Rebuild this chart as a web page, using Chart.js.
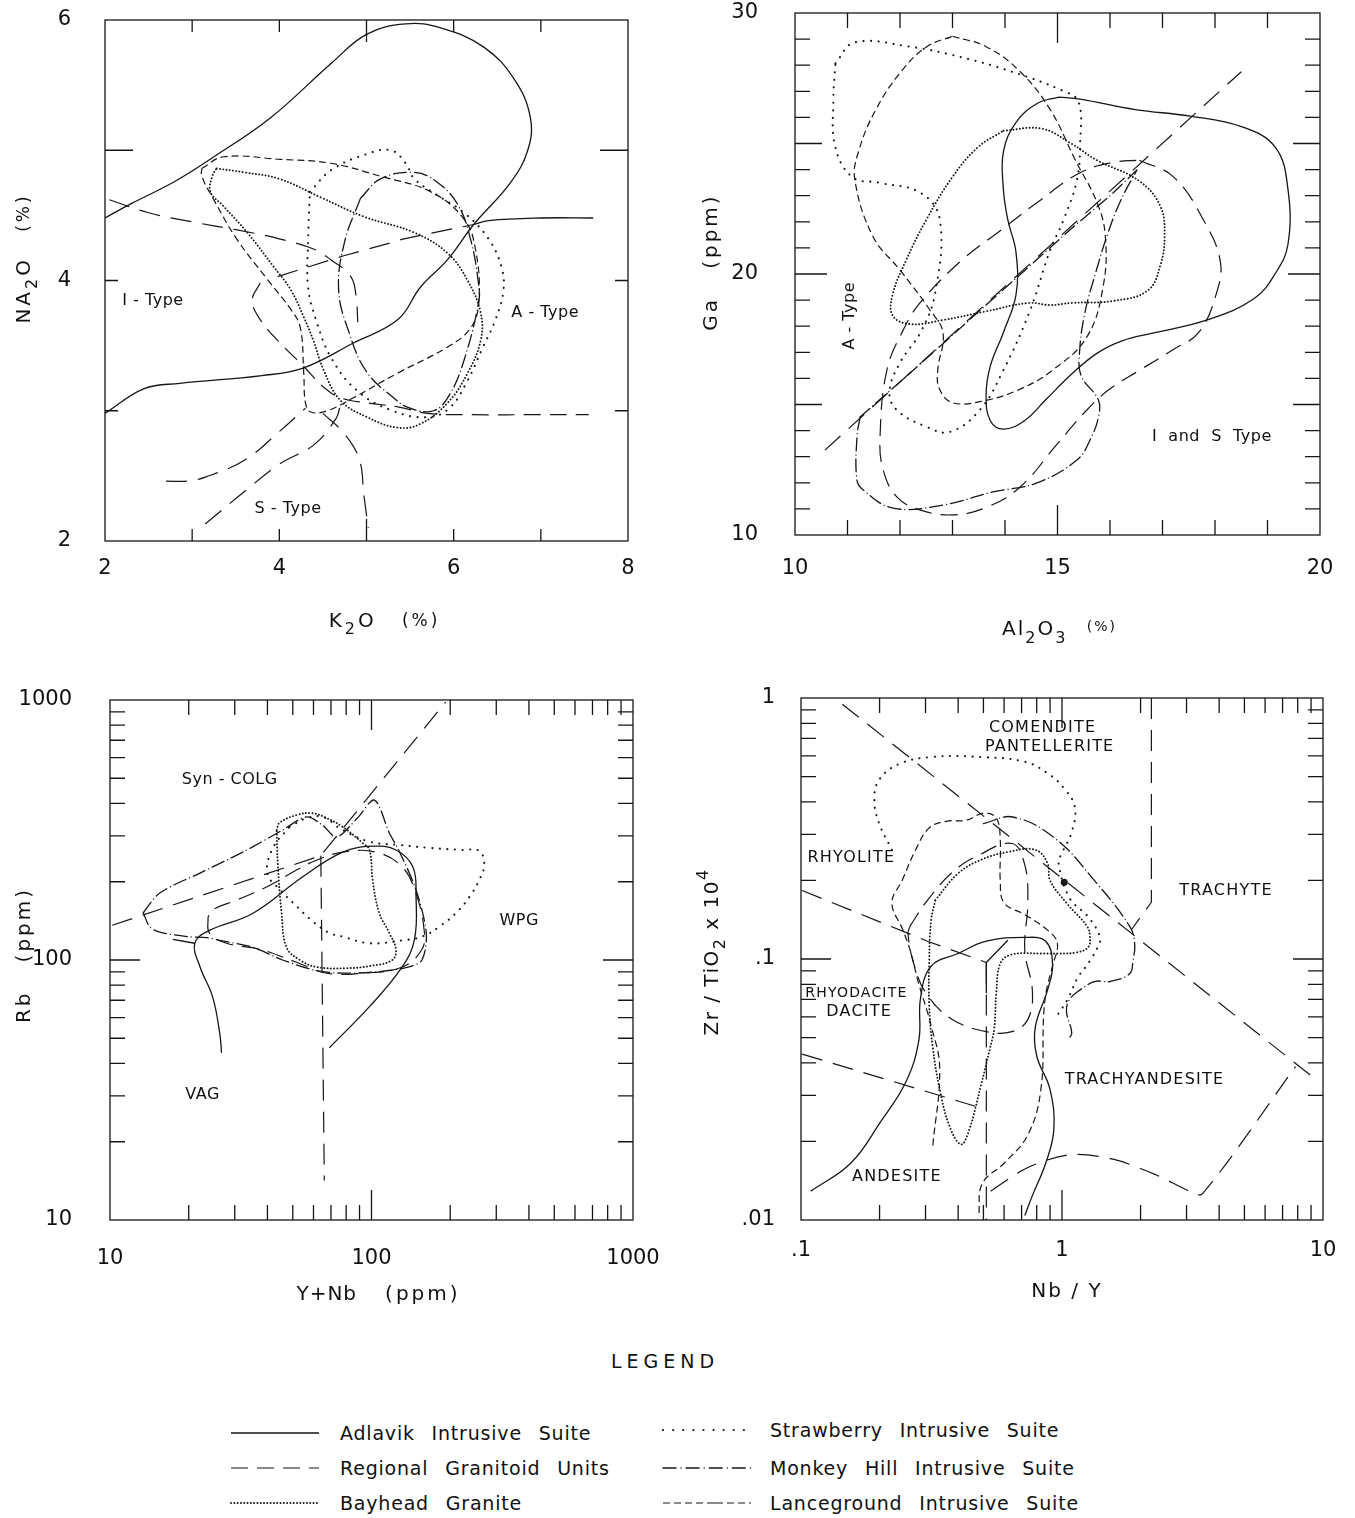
<!DOCTYPE html>
<html>
<head>
<meta charset="utf-8">
<script src="https://cdn.jsdelivr.net/npm/chart.js@4.4.1/dist/chart.umd.min.js"></script>
<style>
  body { margin: 0; background: #fff; width: 1355px; height: 1518px; position: relative; overflow: hidden; color: #000; font-family: 'DejaVu Sans', sans-serif; }
  canvas { position: absolute; }
  #legendTitle { position: absolute; left: 565px; width: 200px; top: 1350px; text-align: center; font-size: 19px; letter-spacing: 5px; color: #111; }
  .row { position: absolute; font-size: 19px; letter-spacing: 0.8px; word-spacing: 10px; height: 24px; line-height: 24px; white-space: nowrap; color: #111; }
  .row svg { position: absolute; left: 0; top: 0; }
  .row span { position: absolute; top: 0; }
</style>
</head>
<body>
<canvas id="naChart"></canvas>
<canvas id="gaChart"></canvas>
<canvas id="rbChart"></canvas>
<canvas id="zrChart"></canvas>

<div id="legendTitle">LEGEND</div>
<div id="legendRows"></div>

<script>
// ---------- panel 1 : K2O vs Na2O ----------
const naXLabels = [2, 4, 6, 8];
const naYLabels = [2, 4, 6];
const naXMarks = [[3, 12], [4, 12], [5, 22], [6, 12], [7, 12]];
const naYMarks = [[3, 13], [4, 13], [5, 28]];

const naAdlavik = [[2.0,4.48],[2.3,4.59],[2.8,4.76],[3.25,4.95],[3.9,5.25],[4.6,5.67],[5.0,5.89],[5.45,5.97],[5.85,5.94],[6.35,5.79],[6.7,5.54],[6.88,5.25],[6.85,5.0],[6.65,4.75],[6.23,4.43],[5.93,4.16],[5.62,3.95],[5.36,3.7],[4.85,3.52],[4.28,3.33],[3.8,3.27],[2.86,3.21],[2.45,3.17],[2.0,2.98]];
const naAdlavikTail = [[6.23,4.43],[6.4,4.46],[7.0,4.48],[7.6,4.48]];
const naRegional = [[3.78,3.98],[3.69,3.85],[3.78,3.7],[4.01,3.52],[4.28,3.34],[4.51,3.18],[4.7,3.1],[5.01,3.06],[5.36,3.03],[5.7,2.98],[6.2,2.97],[7.0,2.97],[7.55,2.97]];
const naBayhead = [[3.28,4.86],[3.6,4.83],[4.0,4.78],[4.47,4.64],[4.97,4.49],[5.54,4.37],[5.93,4.21],[6.16,4.0],[6.31,3.75],[6.31,3.54],[6.16,3.29],[5.93,3.06],[5.62,2.9],[5.36,2.87],[5.01,2.95],[4.7,3.08],[4.51,3.31],[4.39,3.54],[4.28,3.72],[4.13,3.93],[3.93,4.11],[3.63,4.37],[3.36,4.57],[3.21,4.68],[3.23,4.8],[3.28,4.86]];
const naStrawberry = [[4.35,4.68],[4.6,4.85],[5.0,4.97],[5.28,5.0],[5.45,4.9],[5.55,4.78],[5.8,4.66],[6.12,4.52],[6.4,4.32],[6.55,4.1],[6.57,3.92],[6.48,3.7],[6.33,3.48],[6.15,3.22],[5.95,3.02],[5.7,2.95],[5.3,3.0],[4.9,3.15],[4.6,3.4],[4.42,3.7],[4.33,3.95],[4.33,4.3],[4.35,4.68]];
const naMonkeyHill = [[4.93,4.63],[5.16,4.78],[5.54,4.83],[5.8,4.76],[6.05,4.58],[6.2,4.3],[6.28,4.0],[6.29,3.85],[6.12,3.39],[5.95,3.12],[5.77,3.0],[5.5,3.02],[5.31,3.1],[5.0,3.3],[4.8,3.6],[4.68,3.93],[4.75,4.3],[4.93,4.63]];
const naLanceground = [[3.11,4.86],[3.36,4.95],[4.01,4.93],[4.59,4.9],[5.16,4.8],[5.74,4.68],[6.12,4.47],[6.25,4.24],[6.29,3.85],[6.2,3.64],[5.93,3.49],[5.36,3.29],[4.85,3.1],[4.55,3.0],[4.36,2.99],[4.3,3.06],[4.28,3.29],[4.24,3.64],[4.13,3.78],[3.86,4.01],[3.51,4.32],[3.24,4.63],[3.11,4.8],[3.11,4.86]];
const naFieldIA = [[2.05,4.62],[2.5,4.52],[3.0,4.45],[3.5,4.39],[4.0,4.32],[4.4,4.24],[4.59,4.16],[4.82,4.03],[4.88,3.88],[4.9,3.68]];
const naFieldMid = [[3.98,4.03],[4.74,4.19],[5.28,4.29],[5.43,4.32],[6.23,4.43]];
const naFieldS1 = [[3.15,2.13],[3.6,2.38],[4.0,2.59],[4.4,2.74],[4.65,2.94],[4.7,3.04]];
const naFieldS2 = [[2.7,2.46],[2.95,2.46],[3.15,2.49],[3.6,2.62],[4.0,2.84],[4.3,3.02]];
const naFieldS3 = [[4.5,2.98],[4.75,2.82],[4.92,2.62],[4.97,2.35],[5.02,2.1]];
const naTexts = [
  { x: 2.55, y: 3.84, text: 'I - Type' },
  { x: 7.05, y: 3.75, text: 'A - Type' },
  { x: 4.1, y: 2.25, text: 'S - Type' }
];

// ---------- panel 2 : Al2O3 vs Ga ----------
const gaXLabels = [10, 15, 20];
const gaYLabels = [10, 20, 30];
const gaXMarks = [[11,15],[12,15],[13,15],[14,15],[15,30],[16,15],[17,15],[18,15],[19,15]];
const gaYMarks = [[11,15],[12,15],[13,15],[14,15],[15,27],[16,15],[17,15],[18,15],[19,15],[20,32],[21,15],[22,15],[23,15],[24,15],[25,27],[26,15],[27,15],[28,15],[29,15]];

const gaAdlavik = [[15.02,26.78],[15.43,26.7],[16.48,26.3],[17.53,26.05],[18.5,25.65],[19.15,24.85],[19.39,23.24],[19.39,21.14],[19.15,20.02],[18.74,19.05],[17.85,18.24],[16.88,17.76],[16.23,17.44],[15.75,16.96],[15.26,16.15],[14.78,15.19],[14.37,14.38],[13.97,14.06],[13.72,14.38],[13.64,15.35],[13.72,16.47],[13.97,17.76],[14.21,19.21],[14.21,20.82],[14.05,22.11],[13.97,23.24],[13.97,24.69],[14.21,25.81],[14.62,26.54],[15.02,26.78]];
const gaRegional = [[16.56,24.36],[17.21,23.72],[17.77,22.11],[18.1,20.5],[18.02,19.21],[17.69,17.76],[17.2,17.1],[16.57,16.32],[16.0,15.6],[15.56,14.79],[15.0,13.5],[14.29,11.84],[13.66,11.07],[13.01,10.77],[12.38,10.96],[11.94,11.46],[11.68,12.49],[11.62,13.75],[11.75,16.32],[12.06,17.85],[12.38,18.89],[13.16,20.5],[13.89,21.63],[14.62,22.75],[15.43,23.88],[16.07,24.28],[16.56,24.36]];
const gaBayhead = [[13.97,25.49],[14.7,25.57],[15.26,25.0],[15.75,24.36],[16.56,23.56],[16.96,22.59],[17.04,21.47],[16.96,20.34],[16.72,19.37],[16.07,18.97],[15.26,18.89],[14.86,18.81],[14.45,18.89],[13.64,18.57],[12.83,18.24],[12.19,18.08],[11.86,18.41],[11.86,19.21],[12.11,20.5],[12.51,22.11],[13.0,23.72],[13.48,24.85],[13.97,25.49]];
const gaStrawberry = [[10.77,28.07],[11.13,28.87],[12.19,28.71],[13.16,28.31],[14.13,27.75],[15.1,27.02],[15.4,26.6],[15.43,25.0],[15.37,23.6],[15.1,22.0],[14.86,20.92],[14.48,18.62],[13.97,16.32],[13.52,14.79],[12.95,13.95],[12.51,14.14],[11.94,14.79],[11.8,15.5],[12.0,16.6],[12.4,17.8],[12.67,19.27],[12.76,22.07],[12.4,23.1],[11.6,23.5],[11.1,23.7],[10.77,24.85],[10.73,26.62],[10.77,28.07]];
const gaMonkeyHill = [[11.24,14.52],[11.18,13.75],[11.18,12.1],[11.3,11.72],[11.87,11.03],[12.82,11.15],[13.77,11.65],[14.6,11.99],[15.37,12.87],[15.62,13.64],[15.78,14.52],[15.78,15.17],[15.45,16.1],[15.42,17.0],[15.52,18.5],[15.72,20.0],[15.95,21.5],[16.2,22.8],[16.51,23.98]];
const gaMonkeyHillLine = [[11.24,14.52],[12.3,16.4],[13.3,18.2],[14.3,20.0],[15.3,21.8],[16.0,23.0],[16.51,23.98]];
const gaLanceground = [[13.0,29.11],[13.64,28.71],[14.29,27.75],[14.86,26.3],[15.34,24.36],[15.75,22.75],[15.91,21.47],[15.87,19.53],[15.56,17.59],[14.91,16.32],[14.3,15.6],[13.66,15.17],[13.01,15.06],[12.75,15.6],[12.72,16.32],[12.82,17.74],[12.57,18.62],[12.0,20.15],[11.49,21.42],[11.14,23.6],[11.21,24.69],[11.54,26.3],[12.02,27.75],[12.51,28.71],[13.0,29.11]];
const gaField = [[10.57,13.25],[18.5,27.75]];
const gaTexts = [
  { x: 11.05, y: 18.4, text: 'A - Type', rot: -90 },
  { x: 17.94, y: 13.75, text: 'I  and  S  Type' }
];

// ---------- panel 3 : Y+Nb vs Rb ----------
const rbXLabels = [10, 100, 1000];
const rbYLabels = [10, 100, 1000];
const logMinor = [2, 3, 4, 5, 6, 7, 8, 9];

const rbAdlavik = [[26.7,44],[26.3,52],[24.7,72],[22.1,94],[21.1,116],[24,130],[35.1,151],[54.6,209],[77.6,260],[101,274],[124,265],[144,228],[148,175],[146,120],[131,94],[98,66],[69,46]];
const rbAdlavikTick = [[17.4,120],[21.1,116]];
const rbRegional = [[23.7,146],[24,127],[27.9,116],[37.4,110],[51.7,98],[67.3,89],[92.5,89],[131,94],[156,110],[159,130],[148,180],[131,228],[104,260],[77.6,260],[61.6,242],[51.7,222],[39.7,191],[30.5,170],[24.7,156],[23.7,146]];
const rbBayhead = [[43.4,316],[44.5,337],[51.7,361],[59.5,367],[68,350],[77.6,325],[92.5,282],[98.3,265],[101,203],[107,152],[117,127],[124,110],[120,100],[100,95],[80,93],[61.6,94],[53.2,100],[47.3,112],[45.3,152],[43.8,236],[43.4,316]];
const rbStrawberry = [[48.6,325],[56,350],[65,355],[77.6,316],[98.3,285],[128,277],[166,270],[223,265],[258,263],[270,232],[258,203],[237,175],[211,152],[181,134],[156,123],[131,119],[98,116],[77.6,123],[69,127],[60,140],[52,160],[45,185],[40,215],[42,270],[48.6,325]];
const rbMonkeyHill = [[13.4,152],[15.5,181],[22.1,216],[32.2,260],[45.7,316],[56.5,355],[65,330],[73.5,297],[88,350],[102.6,412],[117,308],[127,265],[148,186],[162,127],[156,100],[139,94],[104,90],[77.6,89],[61.6,91],[45.7,100],[35.1,112],[26.3,119],[23.4,122],[19.7,123],[15.5,128],[14.2,134],[13.4,152]];
const rbFieldDiag = [[10.2,136],[64,252],[192,982]];
const rbFieldVert = [[64,252],[66,14.2]];
const rbTexts = [
  { x: 28.7, y: 492, text: 'Syn - COLG' },
  { x: 367, y: 142, text: 'WPG' },
  { x: 22.6, y: 30.3, text: 'VAG' }
];

// ---------- panel 4 : Nb/Y vs Zr/TiO2 ----------
const zrXLabels = [0.1, 1, 10];
const zrXText = ['.1', '1', '10'];
const zrYLabels = [0.01, 0.1, 1];
const zrYText = ['.01', '.1', '1'];

const zrAdlavik = [[0.109,0.0129],[0.155,0.0165],[0.202,0.0238],[0.253,0.034],[0.283,0.049],[0.287,0.0706],[0.315,0.0938],[0.4,0.105],[0.513,0.117],[0.718,0.121],[0.866,0.117],[0.92,0.095],[0.88,0.076],[0.79,0.0548],[0.80,0.0425],[0.9,0.0316],[0.93,0.0221],[0.866,0.0165],[0.77,0.0124],[0.72,0.0104]];
const zrAdlavikY = [[0.513,0.074],[0.513,0.097],[0.62,0.118]];
const zrRegional = [[0.262,0.134],[0.257,0.125],[0.272,0.094],[0.304,0.073],[0.38,0.0587],[0.513,0.0527],[0.643,0.0527],[0.74,0.0587],[0.77,0.0755],[0.72,0.108],[0.74,0.167],[0.718,0.232],[0.643,0.277],[0.476,0.249],[0.38,0.215],[0.304,0.167],[0.262,0.134]];
const zrBayhead = [[0.327,0.168],[0.4,0.213],[0.49,0.24],[0.62,0.257],[0.79,0.262],[0.88,0.233],[0.9,0.2],[1.04,0.164],[1.25,0.133],[1.28,0.121],[1.26,0.111],[1.14,0.106],[0.98,0.105],[0.83,0.105],[0.64,0.104],[0.58,0.096],[0.56,0.074],[0.55,0.054],[0.53,0.0456],[0.49,0.033],[0.44,0.022],[0.41,0.0195],[0.37,0.023],[0.34,0.0317],[0.32,0.0456],[0.31,0.066],[0.31,0.1],[0.315,0.14],[0.327,0.168]];
const zrStrawberry = [[0.223,0.262],[0.199,0.332],[0.191,0.407],[0.199,0.485],[0.237,0.558],[0.317,0.594],[0.49,0.594],[0.72,0.57],[0.88,0.515],[1.02,0.45],[1.12,0.382],[1.09,0.307],[1.0,0.255],[0.97,0.233],[1.07,0.171],[1.26,0.145],[1.4,0.121],[1.37,0.111],[1.3,0.101],[1.23,0.093],[1.15,0.085],[1.05,0.07],[0.95,0.06]];
const zrMonkeyHill = [[0.5,0.33],[0.649,0.35],[0.94,0.29],[1.33,0.2],[1.82,0.133],[1.9,0.113],[1.87,0.099],[1.82,0.088],[1.53,0.082],[1.34,0.082],[1.17,0.076],[1.07,0.07],[1.04,0.063],[1.09,0.052],[1.05,0.049]];
const zrLanceground = [[0.32,0.0193],[0.34,0.038],[0.316,0.055],[0.282,0.081],[0.262,0.108],[0.245,0.13],[0.223,0.164],[0.244,0.2],[0.275,0.262],[0.31,0.318],[0.36,0.337],[0.43,0.34],[0.5,0.362],[0.56,0.347],[0.58,0.286],[0.58,0.2],[0.6,0.164],[0.72,0.148],[0.88,0.129],[0.96,0.115],[0.92,0.094],[0.87,0.075],[0.85,0.06],[0.83,0.0316],[0.74,0.0212],[0.6,0.0165],[0.495,0.0138],[0.48,0.0105]];
const zrFieldDiag = [[0.144,0.947],[9.1,0.0354]];
const zrFieldTrachyte = [[2.2,1.0],[2.2,0.165],[1.85,0.13]];
const zrFieldRhyolite = [[0.101,0.183],[0.305,0.117],[0.513,0.097]];
const zrFieldAndesite = [[0.101,0.0432],[0.513,0.0265]];
const zrFieldVert = [[0.513,0.097],[0.513,0.01]];
const zrFieldBasal = [[0.533,0.0129],[0.74,0.0159],[1.08,0.0178],[1.57,0.0171],[2.29,0.0149],[3.08,0.0129],[3.45,0.0126],[7.85,0.0387]];
const zrSample = [[1.02,0.197]];
const zrTexts = [
  { x: 0.843, y: 0.767, text: 'COMENDITE' },
  { x: 0.897, y: 0.649, text: 'PANTELLERITE' },
  { x: 0.156, y: 0.244, text: 'RHYOLITE' },
  { x: 4.25, y: 0.182, text: 'TRACHYTE' },
  { x: 0.163, y: 0.074, text: 'RHYODACITE', size: 14 },
  { x: 0.167, y: 0.0626, text: 'DACITE' },
  { x: 2.07, y: 0.0344, text: 'TRACHYANDESITE' },
  { x: 0.233, y: 0.0146, text: 'ANDESITE' }
];

// ---------- legend ----------
const legendNames = ['Adlavik  Intrusive  Suite', 'Regional  Granitoid  Units', 'Bayhead  Granite',
                     'Strawberry  Intrusive  Suite', 'Monkey  Hill  Intrusive  Suite', 'Lanceground  Intrusive  Suite'];
const legendKeys = ['adlavik', 'regional', 'bayhead', 'strawberry', 'monkey', 'lance'];

// ---------- styles ----------
const INK = '#161616';
const FONT = "'DejaVu Sans', sans-serif";
const WEIGHT = '400';
const STYLE = {
  adlavik:    { dash: [], width: 1.3, cap: 'butt', svg: '' },
  regional:   { dash: [17, 9], width: 1.2, cap: 'butt', svg: '17 9' },
  bayhead:    { dash: [0.1, 3.2], width: 1.9, cap: 'round', svg: '0.1 3.2' },
  strawberry: { dash: [0.1, 7.5], width: 2.1, cap: 'round', svg: '0.1 10' },
  monkey:     { dash: [13, 4, 0.1, 4], width: 1.3, cap: 'round', svg: '13 5 0.1 5' },
  lance:      { dash: [7, 4], width: 1.2, cap: 'butt', svg: '7 4 7 4 7 4 7 4 16 4' },
  field:      { dash: [21, 11], width: 1.2, cap: 'butt', svg: '21 11' }
};

// room kept round the plot so tick labels never push the frame
const PAD_TOP = 60, PAD_RIGHT = 60, Y_W = 105, X_H = 120;

function pts(arr) {
  return arr.map(p => ({ x: p[0], y: p[1] }));
}

function line(arr, key, tension) {
  const s = STYLE[key];
  return {
    data: pts(arr),
    showLine: true,
    borderColor: INK,
    borderWidth: s.width,
    borderDash: s.dash,
    borderCapStyle: s.cap,
    borderJoinStyle: 'round',
    pointRadius: 0,
    tension: tension === undefined ? 0.4 : tension,
    fill: false
  };
}

// axis titles with real sub/superscripts
function drawRich(ctx, title, cx, cy, rot) {
  const size = title.size || 20;
  const fontOf = s => WEIGHT + ' ' + Math.round(size * (s.scale || 1)) + 'px ' + FONT;
  const spacing = s => (s.ls !== undefined ? s.ls : title.ls) + 'px';
  ctx.save();
  ctx.translate(cx, cy);
  ctx.rotate(rot);
  ctx.textAlign = 'left';
  ctx.textBaseline = 'middle';
  let total = 0;
  title.segs.forEach(s => { ctx.font = fontOf(s); ctx.letterSpacing = spacing(s); total += ctx.measureText(s.t).width; });
  let x = -total / 2;
  title.segs.forEach(s => {
    ctx.font = fontOf(s);
    ctx.letterSpacing = spacing(s);
    ctx.fillText(s.t, x, s.dy || 0);
    x += ctx.measureText(s.t).width;
  });
  ctx.restore();
}

// frame, inward tick marks, field names and axis titles
const framePlugin = {
  id: 'frame',
  afterDatasetsDraw(chart, args, opts) {
    const { ctx, chartArea: a } = chart;
    const xs = chart.scales.x, ys = chart.scales.y;
    ctx.save();
    ctx.strokeStyle = INK;
    ctx.lineWidth = 1.3;
    ctx.strokeRect(a.left, a.top, a.right - a.left, a.bottom - a.top);
    ctx.beginPath();
    opts.xMarks.forEach(m => {
      const px = xs.getPixelForValue(m[0]);
      ctx.moveTo(px, a.bottom); ctx.lineTo(px, a.bottom - m[1]);
      ctx.moveTo(px, a.top); ctx.lineTo(px, a.top + m[1]);
    });
    opts.yMarks.forEach(m => {
      const py = ys.getPixelForValue(m[0]);
      ctx.moveTo(a.left, py); ctx.lineTo(a.left + m[1], py);
      ctx.moveTo(a.right, py); ctx.lineTo(a.right - m[1], py);
    });
    ctx.stroke();
    ctx.fillStyle = '#111';
    ctx.textAlign = 'center';
    ctx.textBaseline = 'middle';
    opts.texts.forEach(t => {
      ctx.save();
      ctx.font = WEIGHT + ' ' + (t.size || opts.textSize) + 'px ' + FONT;
      ctx.letterSpacing = (opts.textLs || 0) + 'px';
      ctx.translate(xs.getPixelForValue(t.x), ys.getPixelForValue(t.y));
      if (t.rot) ctx.rotate(t.rot * Math.PI / 180);
      ctx.fillText(t.text, 0, 0);
      ctx.restore();
    });
    const xt = opts.xTitle, yt = opts.yTitle;
    drawRich(ctx, xt, (a.left + a.right) / 2 + xt.dx, a.bottom + xt.dy, 0);
    drawRich(ctx, yt, a.left - yt.dx, (a.top + a.bottom) / 2 + yt.dy, -Math.PI / 2);
    ctx.restore();
  }
};

function axis(type, min, max, vals, names, tickPad, isY) {
  return {
    type: type,
    min: min,
    max: max,
    grid: { display: false, drawTicks: false },
    border: { display: false },
    ticks: {
      color: '#111',
      font: { family: FONT, size: 21, weight: WEIGHT },
      padding: tickPad,
      autoSkip: false,
      maxRotation: 0,
      callback: (v, i) => names[i]
    },
    afterBuildTicks: s => { s.ticks = vals.map(v => ({ value: v })); },
    afterFit: s => { if (isY) s.width = Y_W; else s.height = X_H; },
    title: { display: false }
  };
}

function logMarks(decades, mid) {
  const out = [];
  decades.forEach(d => {
    logMinor.forEach(m => out.push([m * d, 15]));
  });
  out.push([mid, 30]);
  return out;
}

function makePanel(id, box, datasets, xAxis, yAxis, frameOpts) {
  const cv = document.getElementById(id);
  const w = box[2] - box[0] + Y_W + PAD_RIGHT;
  const h = box[3] - box[1] + PAD_TOP + X_H;
  cv.width = w; cv.height = h;
  cv.style.left = (box[0] - Y_W) + 'px';
  cv.style.top = (box[1] - PAD_TOP) + 'px';
  cv.style.width = w + 'px';
  cv.style.height = h + 'px';
  return new Chart(cv, {
    type: 'scatter',
    data: { datasets: datasets },
    options: {
      responsive: false,
      animation: false,
      events: [],
      layout: { padding: { left: 0, top: PAD_TOP, right: PAD_RIGHT, bottom: 0 } },
      scales: { x: xAxis, y: yAxis },
      plugins: { legend: { display: false }, tooltip: { enabled: false }, frame: frameOpts }
    },
    plugins: [framePlugin]
  });
}

// panel 1
makePanel('naChart', [105, 20, 628, 541], [
  line(naAdlavik, 'adlavik'),
  line(naAdlavikTail, 'adlavik'),
  line(naRegional, 'regional'),
  line(naBayhead, 'bayhead'),
  line(naStrawberry, 'strawberry'),
  line(naMonkeyHill, 'monkey'),
  line(naLanceground, 'lance'),
  line(naFieldIA, 'field'),
  line(naFieldMid, 'field', 0),
  line(naFieldS1, 'field'),
  line(naFieldS2, 'field'),
  line(naFieldS3, 'field')
],
  axis('linear', 2, 8, naXLabels, naXLabels.map(String), 15, false),
  axis('linear', 2, 6, naYLabels, naYLabels.map(String), 34, true),
  { xMarks: naXMarks, yMarks: naYMarks, texts: naTexts, textSize: 16, textLs: 0.5,
    xTitle: { segs: [{ t: 'K' }, { t: '2', dy: 8, scale: 0.8 }, { t: 'O' }, { t: '   (%)', scale: 0.85 }], dx: 18, dy: 81, ls: 3 },
    yTitle: { segs: [{ t: 'NA' }, { t: '2', dy: 8, scale: 0.8 }, { t: 'O' }, { t: '   (%)', scale: 0.85 }], dx: 80, dy: -22, ls: 3 } });

// panel 2
makePanel('gaChart', [795, 13, 1320, 535], [
  line(gaAdlavik, 'adlavik'),
  line(gaRegional, 'regional'),
  line(gaBayhead, 'bayhead'),
  line(gaStrawberry, 'strawberry'),
  line(gaMonkeyHill, 'monkey'),
  line(gaMonkeyHillLine, 'monkey', 0.2),
  line(gaLanceground, 'lance'),
  line(gaField, 'field', 0)
],
  axis('linear', 10, 20, gaXLabels, gaXLabels.map(String), 21, false),
  axis('linear', 10, 30, gaYLabels, gaYLabels.map(String), 37, true),
  { xMarks: gaXMarks, yMarks: gaYMarks, texts: gaTexts, textSize: 16, textLs: 0.5,
    xTitle: { segs: [{ t: 'Al' }, { t: '2', dy: 9, scale: 0.8 }, { t: 'O' }, { t: '3', dy: 9, scale: 0.8 }, { t: '   (%)', scale: 0.72, dy: -3 }], dx: 2, dy: 95, ls: 2 },
    yTitle: { segs: [{ t: 'Ga   (ppm)' }], dx: 83, dy: -12, ls: 3 } });

// panel 3
makePanel('rbChart', [110, 700, 633, 1220], [
  line(rbAdlavik, 'adlavik'),
  line(rbAdlavikTick, 'adlavik', 0),
  line(rbRegional, 'regional'),
  line(rbBayhead, 'bayhead'),
  line(rbStrawberry, 'strawberry'),
  line(rbMonkeyHill, 'monkey', 0.3),
  line(rbFieldDiag, 'field', 0),
  line(rbFieldVert, 'field', 0)
],
  axis('logarithmic', 10, 1000, rbXLabels, rbXLabels.map(String), 26, false),
  axis('logarithmic', 10, 1000, rbYLabels, rbYLabels.map(String), 38, true),
  { xMarks: logMarks([10, 100], 100), yMarks: logMarks([10, 100], 100), texts: rbTexts, textSize: 16, textLs: 0.5,
    xTitle: { segs: [{ t: 'Y+Nb', ls: 1 }, { t: '   (ppm)' }], dx: 7, dy: 75, ls: 3 },
    yTitle: { segs: [{ t: 'Rb   (ppm)' }], dx: 85, dy: -5, ls: 3 } });

// panel 4
const zrSampleSet = { data: pts(zrSample), showLine: false, pointRadius: 3.5, pointBackgroundColor: INK, pointBorderWidth: 0 };
makePanel('zrChart', [801, 698, 1323, 1220], [
  line(zrAdlavik, 'adlavik'),
  line(zrAdlavikY, 'adlavik', 0),
  line(zrRegional, 'regional'),
  line(zrBayhead, 'bayhead'),
  line(zrStrawberry, 'strawberry'),
  line(zrMonkeyHill, 'monkey'),
  line(zrLanceground, 'lance'),
  line(zrFieldDiag, 'field', 0),
  line(zrFieldTrachyte, 'field', 0),
  line(zrFieldRhyolite, 'field', 0),
  line(zrFieldAndesite, 'field', 0),
  line(zrFieldVert, 'field', 0),
  line(zrFieldBasal, 'field', 0.3),
  zrSampleSet
],
  axis('logarithmic', 0.1, 10, zrXLabels, zrXText, 18, false),
  axis('logarithmic', 0.01, 1, zrYLabels, zrYText, 26, true),
  { xMarks: logMarks([0.1, 1], 1), yMarks: logMarks([0.01, 0.1], 0.1), texts: zrTexts, textSize: 16, textLs: 1.2,
    xTitle: { segs: [{ t: 'Nb / Y' }], dx: 5, dy: 72, ls: 2 },
    yTitle: { segs: [{ t: 'Zr / TiO' }, { t: '2', dy: 8, scale: 0.8 }, { t: ' x 10' }, { t: '4', dy: -9, scale: 0.8 }], dx: 88, dy: -7, ls: 1.5 } });

// legend rows drawn with svg line samples
const rowsBox = document.getElementById('legendRows');
const rowPos = [[230, 1421], [230, 1456], [230, 1491], [662, 1418], [662, 1456], [662, 1491]];
legendNames.forEach((name, i) => {
  const s = STYLE[legendKeys[i]];
  const row = document.createElement('div');
  row.className = 'row';
  row.style.left = rowPos[i][0] + 'px';
  row.style.top = rowPos[i][1] + 'px';
  row.innerHTML =
    '<svg width="90" height="24"><line x1="1" y1="12" x2="89" y2="12" stroke="' + INK + '" stroke-width="' + s.width +
    '" stroke-linecap="' + s.cap + '" stroke-dasharray="' + s.svg + '"/></svg>' +
    '<span style="left:' + (i < 3 ? 110 : 108) + 'px">' + name + '</span>';
  rowsBox.appendChild(row);
});
</script>
</body>
</html>
